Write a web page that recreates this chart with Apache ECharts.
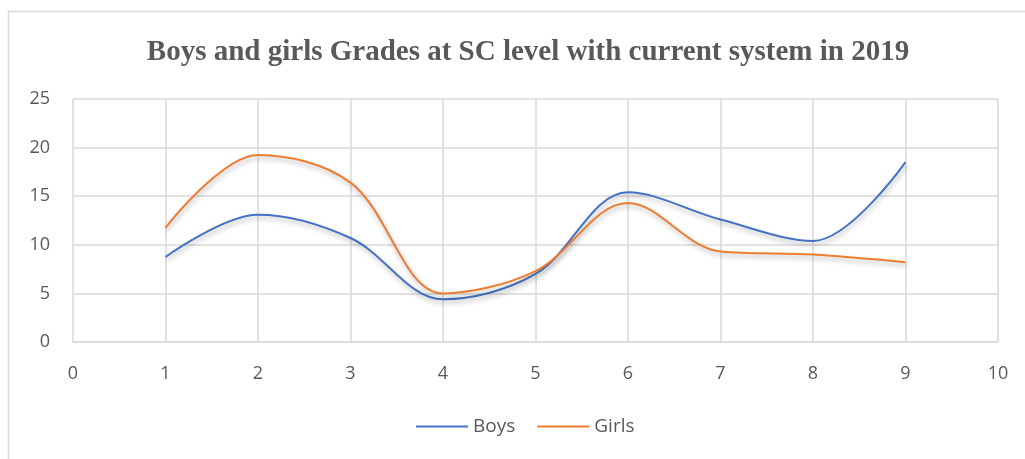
<!DOCTYPE html>
<html lang="en">
  <head>
    <meta charset="UTF-8" />
    <title>Boys and girls Grades</title>
    <style>
      html, body { margin: 0; padding: 0; background: #fff; }
      #main { width: 1025px; height: 459px; }
    </style>
  </head>
  <body>
    <div id="main"></div>
    <script src="https://cdn.jsdelivr.net/npm/echarts@6.0.0/dist/echarts.min.js"></script>
    <script>
      var xs = [1, 2, 3, 4, 5, 6, 7, 8, 9];
      var boys = [8.75, 13.1, 10.7, 4.4, 7.0, 15.4, 12.6, 10.4, 18.5];
      var girls = [11.75, 19.25, 16.4, 5.0, 7.3, 14.3, 9.3, 9.0, 8.2];
      var xTicks = { min: 0, max: 10, step: 1 };
      var yTicks = { min: 0, max: 25, step: 5 };

      var chart = echarts.init(document.getElementById("main"));
      var gridColor = "#d9d9d9";
      var textColor = "#595959";
      var labelFont = "'Open Sans', 'Noto Sans', sans-serif";

      function pairs(vals) {
        return xs.map(function (x, i) { return [x, vals[i]]; });
      }
      function lineSeries(name, vals, color) {
        return {
          name: name,
          type: "line",
          data: pairs(vals),
          smooth: 0.35,
          showSymbol: false,
          symbol: "none",
          lineStyle: {
            color: color,
            width: 2,
            shadowColor: "rgba(0,0,0,0.3)",
            shadowBlur: 5,
            shadowOffsetX: 1,
            shadowOffsetY: 3
          },
          itemStyle: { color: color }
        };
      }

      chart.setOption({
        animation: false,
        graphic: [
          {
            type: "rect",
            shape: { x: 8.5, y: 11.5, width: 1030, height: 460 },
            style: { fill: null, stroke: "#d9d9d9", lineWidth: 1.5 }
          }
        ],
        title: {
          text: "Boys and girls Grades at SC level with current system in 2019",
          left: 523,
          textAlign: "center",
          top: 33,
          textStyle: {
            fontFamily: "'Liberation Serif', 'Times New Roman', serif",
            fontWeight: "bold",
            fontSize: 29,
            color: textColor
          }
        },
        legend: {
          bottom: 18,
          left: 411,
          itemWidth: 52,
          itemHeight: 2,
          itemGap: 22,
          icon: "rect",
          textStyle: { fontFamily: labelFont, fontSize: 19, color: textColor },
          data: ["Boys", "Girls"]
        },
        grid: { left: 73, right: 27, top: 99, bottom: 117 },
        xAxis: {
          type: "value",
          min: xTicks.min,
          max: xTicks.max,
          interval: xTicks.step,
          axisLine: { show: true, lineStyle: { color: gridColor, width: 1.5 } },
          axisTick: { show: false },
          splitLine: { show: true, lineStyle: { color: gridColor, width: 1.5 } },
          axisLabel: { margin: 23, fontFamily: labelFont, fontSize: 18, color: textColor }
        },
        yAxis: {
          type: "value",
          min: yTicks.min,
          max: yTicks.max,
          interval: yTicks.step,
          axisLine: { show: false },
          axisTick: { show: false },
          splitLine: { show: true, lineStyle: { color: gridColor, width: 1.5 } },
          axisLabel: { margin: 23, fontFamily: labelFont, fontSize: 18, color: textColor }
        },
        series: [
          lineSeries("Boys", boys, "#4472C4"),
          lineSeries("Girls", girls, "#ED7D31")
        ]
      });
    </script>
  </body>
</html>
